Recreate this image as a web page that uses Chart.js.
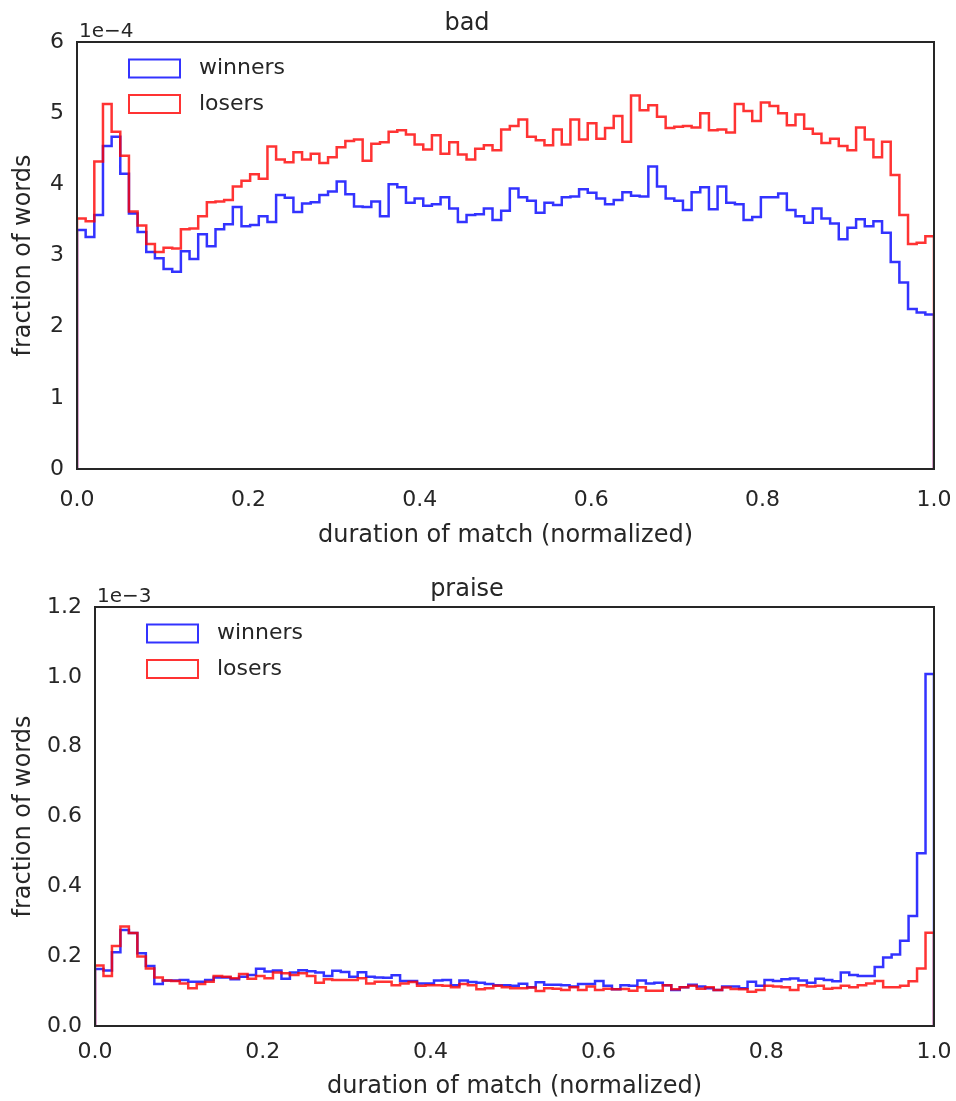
<!DOCTYPE html>
<html>
<head>
<meta charset="utf-8">
<title>bad / praise</title>
<script src="https://cdn.jsdelivr.net/npm/chart.js@4.4.1/dist/chart.umd.min.js"></script>
<style>
  html, body { margin: 0; padding: 0; background: #fff; }
  #wrap { position: relative; width: 956px; height: 1101px; }
  #wrap canvas { position: absolute; left: 0; }
</style>
</head>
<body>
<div id="wrap">
  <canvas id="chartBad" width="956" height="551" style="top:0"></canvas>
  <canvas id="chartPraise" width="956" height="550" style="top:551px"></canvas>
</div>
<script>
// 99 equal bins over the normalized match duration [0, 1]
var seriesLabels = ['winners', 'losers'];
var xTicks = [0, 0.2, 0.4, 0.6, 0.8, 1.0];

// "bad" - fraction of words, in units of 1e-4
var badWinners = [
  3.36, 3.26, 3.57, 4.54, 4.67, 4.15, 3.59, 3.33, 3.05, 2.96,
  2.81, 2.77, 3.06, 2.95, 3.30, 3.13, 3.37, 3.44, 3.68, 3.41,
  3.43, 3.55, 3.47, 3.85, 3.81, 3.61, 3.73, 3.75, 3.85, 3.90,
  4.04, 3.86, 3.69, 3.68, 3.76, 3.55, 4.00, 3.96, 3.74, 3.80,
  3.70, 3.72, 3.82, 3.66, 3.47, 3.57, 3.58, 3.66, 3.50, 3.63,
  3.94, 3.82, 3.77, 3.60, 3.74, 3.71, 3.82, 3.83, 3.93, 3.88,
  3.80, 3.72, 3.78, 3.89, 3.84, 3.83, 4.25, 3.97, 3.80, 3.77,
  3.64, 3.89, 3.96, 3.65, 3.97, 3.74, 3.72, 3.50, 3.54, 3.82,
  3.82, 3.87, 3.64, 3.55, 3.46, 3.66, 3.52, 3.45, 3.23, 3.39,
  3.51, 3.41, 3.48, 3.32, 2.91, 2.62, 2.25, 2.20, 2.17
];
var badLosers = [
  3.52, 3.48, 4.32, 5.13, 4.74, 4.40, 3.62, 3.42, 3.16, 3.05,
  3.11, 3.10, 3.37, 3.38, 3.55, 3.75, 3.76, 3.78, 3.97, 4.05,
  4.14, 4.08, 4.53, 4.35, 4.31, 4.45, 4.35, 4.43, 4.30, 4.38,
  4.52, 4.61, 4.63, 4.33, 4.57, 4.59, 4.74, 4.76, 4.70, 4.56,
  4.49, 4.69, 4.43, 4.59, 4.42, 4.35, 4.50, 4.55, 4.48, 4.77,
  4.82, 4.91, 4.67, 4.62, 4.55, 4.77, 4.56, 4.91, 4.63, 4.86,
  4.64, 4.79, 4.96, 4.60, 5.25, 5.04, 5.11, 4.95, 4.79, 4.81,
  4.82, 4.80, 5.00, 4.76, 4.77, 4.73, 5.13, 5.03, 4.89, 5.15,
  5.10, 5.00, 4.83, 4.98, 4.78, 4.71, 4.58, 4.64, 4.54, 4.48,
  4.80, 4.63, 4.38, 4.60, 4.13, 3.57, 3.16, 3.18, 3.27
];

// "praise" - fraction of words, in units of 1e-3
var praiseWinners = [
  0.163, 0.159, 0.211, 0.275, 0.266, 0.208, 0.172, 0.120, 0.130, 0.130,
  0.132, 0.127, 0.127, 0.132, 0.139, 0.139, 0.134, 0.141, 0.146, 0.164,
  0.156, 0.159, 0.135, 0.153, 0.160, 0.157, 0.153, 0.143, 0.158, 0.155,
  0.141, 0.154, 0.141, 0.139, 0.138, 0.145, 0.129, 0.129, 0.122, 0.122,
  0.130, 0.132, 0.117, 0.130, 0.126, 0.124, 0.120, 0.117, 0.117, 0.115,
  0.121, 0.111, 0.125, 0.118, 0.118, 0.117, 0.113, 0.120, 0.120, 0.129,
  0.115, 0.105, 0.117, 0.115, 0.130, 0.122, 0.124, 0.117, 0.103, 0.111,
  0.118, 0.113, 0.108, 0.103, 0.113, 0.113, 0.108, 0.127, 0.115, 0.132,
  0.129, 0.134, 0.136, 0.130, 0.124, 0.135, 0.132, 0.128, 0.153, 0.146,
  0.143, 0.143, 0.169, 0.196, 0.205, 0.244, 0.315, 0.495, 1.008
];
var praiseLosers = [
  0.173, 0.143, 0.229, 0.285, 0.266, 0.199, 0.165, 0.139, 0.130, 0.129,
  0.122, 0.108, 0.120, 0.127, 0.143, 0.141, 0.137, 0.149, 0.135, 0.143,
  0.137, 0.153, 0.151, 0.146, 0.151, 0.143, 0.124, 0.134, 0.132, 0.132,
  0.132, 0.137, 0.122, 0.127, 0.127, 0.117, 0.122, 0.126, 0.115, 0.117,
  0.117, 0.115, 0.111, 0.120, 0.117, 0.105, 0.108, 0.115, 0.111, 0.108,
  0.108, 0.110, 0.100, 0.108, 0.107, 0.103, 0.111, 0.103, 0.113, 0.103,
  0.107, 0.105, 0.106, 0.101, 0.111, 0.101, 0.101, 0.117, 0.105, 0.111,
  0.115, 0.107, 0.111, 0.103, 0.110, 0.106, 0.105, 0.098, 0.103, 0.115,
  0.113, 0.111, 0.103, 0.117, 0.113, 0.115, 0.107, 0.109, 0.115, 0.111,
  0.117, 0.122, 0.129, 0.111, 0.111, 0.115, 0.128, 0.165, 0.267
];

var INK = '#262626';
var FONT = '"DejaVu Sans", sans-serif';
var COLORS = ['rgba(0,0,255,0.8)', 'rgba(255,0,0,0.8)'];

Chart.defaults.font.family = FONT;
Chart.defaults.color = INK;

// histtype='step' outline: rise at x=0, one point per bin left edge, drop at x=1
function stepPoints(values) {
  var n = values.length;
  var pts = [{ x: 0, y: 0 }];
  for (var i = 0; i < n; i++) {
    pts.push({ x: i / n, y: values[i] });
  }
  pts.push({ x: 1, y: values[n - 1] });
  pts.push({ x: 1, y: 0 });
  return pts;
}

// frame, legend with outlined patches and the "1e-N" offset text
var framePlugin = {
  id: 'frame',
  afterDatasetsDraw: function (chart, args, opts) {
    var a = chart.chartArea;
    var ctx = chart.ctx;
    ctx.save();

    chart.data.datasets.forEach(function (ds, k) {
      var cy = a.top + 26.5 + k * 35.5;
      ctx.strokeStyle = ds.borderColor;
      ctx.lineWidth = 2;
      ctx.strokeRect(a.left + 52, cy - 9, 51, 18);
      ctx.fillStyle = INK;
      ctx.font = '22px ' + FONT;
      ctx.textAlign = 'left';
      ctx.textBaseline = 'middle';
      ctx.fillText(ds.label, a.left + 122, cy);
    });

    ctx.strokeStyle = INK;
    ctx.lineWidth = 2;
    ctx.strokeRect(a.left, a.top, a.right - a.left, a.bottom - a.top);

    ctx.fillStyle = INK;
    ctx.font = '20px ' + FONT;
    ctx.textAlign = 'left';
    ctx.textBaseline = 'alphabetic';
    ctx.fillText(opts.exponent, a.left + 2, a.top - 5);
    ctx.restore();
  }
};

function makeHist(canvasId, s) {
  var datasets = s.series.map(function (values, k) {
    return {
      label: seriesLabels[k],
      data: stepPoints(values),
      borderColor: COLORS[k],
      backgroundColor: 'rgba(0,0,0,0)',
      borderWidth: 2.5,
      pointRadius: 0,
      stepped: true,
      fill: false,
      order: 1 - k
    };
  });

  return new Chart(document.getElementById(canvasId), {
    type: 'line',
    data: { datasets: datasets },
    plugins: [framePlugin],
    options: {
      responsive: false,
      animation: false,
      devicePixelRatio: 1,
      layout: { padding: { left: 0, right: 22, top: 0, bottom: 0 } },
      plugins: {
        legend: { display: false },
        tooltip: { enabled: false },
        frame: { exponent: s.exponent },
        title: {
          display: true,
          text: s.title,
          color: INK,
          font: { size: 24, weight: 'normal' },
          padding: s.titlePad
        }
      },
      scales: {
        x: {
          type: 'linear',
          min: 0,
          max: 1,
          afterBuildTicks: function (scale) {
            scale.ticks = xTicks.map(function (v) { return { value: v }; });
          },
          ticks: {
            padding: s.xTickPad,
            color: INK,
            font: { size: 22 },
            callback: function (v) { return v.toFixed(1); }
          },
          grid: { display: false, drawTicks: false },
          border: { display: false },
          title: {
            display: true,
            text: 'duration of match (normalized)',
            color: INK,
            font: { size: 24 },
            padding: { top: 0, bottom: s.xTitlePad }
          },
          afterFit: function (scale) {
            // the end labels may hang over the plot edges; the layout padding covers them
            scale.height = s.xAxisHeight;
            scale.paddingLeft = 0;
            scale.paddingRight = 0;
          }
        },
        y: {
          min: 0,
          max: s.yMax,
          ticks: {
            stepSize: s.yStep,
            padding: 13,
            color: INK,
            font: { size: 22 },
            callback: function (v) { return v.toFixed(s.yDecimals); }
          },
          grid: { display: false, drawTicks: false },
          border: { display: false },
          title: {
            display: true,
            text: 'fraction of words',
            color: INK,
            font: { size: 24 },
            padding: { top: 9, bottom: 0 }
          },
          afterFit: function (scale) {
            scale.width = s.yAxisWidth;
            scale.paddingTop = 0;
            scale.paddingBottom = 0;
          }
        }
      }
    }
  });
}

makeHist('chartBad', {
  title: 'bad',
  series: [badWinners, badLosers],
  exponent: '1e\u22124',
  yMax: 6, yStep: 1, yDecimals: 0,
  yAxisWidth: 77, xAxisHeight: 82,
  titlePad: { top: 9.6, bottom: 3.6 },
  xTickPad: 18, xTitlePad: 1
});

makeHist('chartPraise', {
  title: 'praise',
  series: [praiseWinners, praiseLosers],
  exponent: '1e\u22123',
  yMax: 1.2, yStep: 0.2, yDecimals: 1,
  yAxisWidth: 95, xAxisHeight: 75,
  titlePad: { top: 24.6, bottom: 2.6 },
  xTickPad: 13, xTitlePad: 0
});
</script>
</body>
</html>
